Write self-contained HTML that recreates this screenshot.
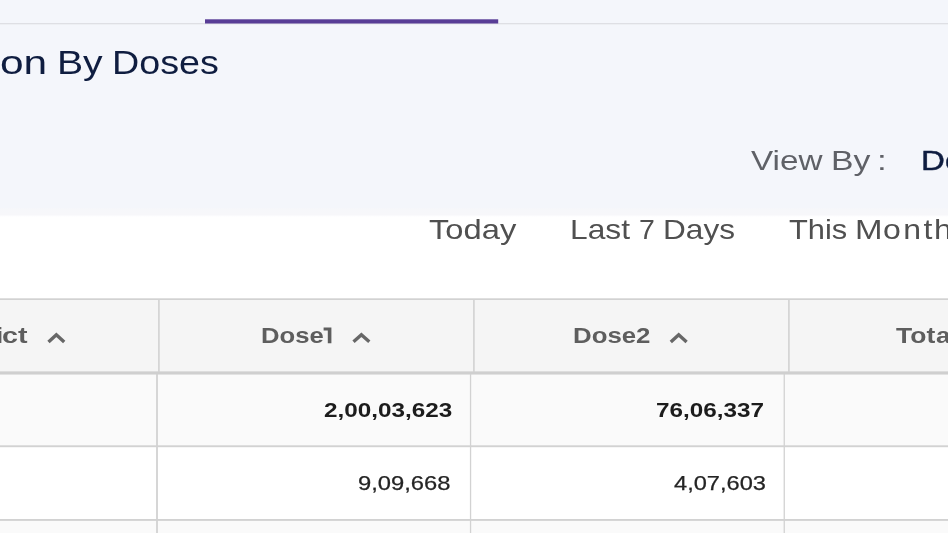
<!DOCTYPE html>
<html><head><meta charset="utf-8">
<style>
html,body{margin:0;padding:0;}
body{width:948px;height:533px;overflow:hidden;position:relative;background:#fff;font-family:"Liberation Sans",sans-serif;}
.abs{position:absolute;}
.t{position:absolute;white-space:nowrap;line-height:1;transform-origin:0 0;will-change:transform;}
.topbg{left:0;top:0;width:948px;height:218px;background:linear-gradient(to bottom,#f4f6fb 0,#f4f6fb 207.5px,#f6f7fa 208.8px,#f7f7fa 214.8px,#fff 216.8px);}
.hdr{left:0;top:299px;width:948px;height:74px;background:#f5f5f5;}
.r1{left:0;top:374px;width:948px;height:72px;background:#fafafa;}
.r3{left:0;top:521px;width:948px;height:12px;background:#fafafa;}
.chev{position:absolute;}
.fx{position:absolute;left:0;top:0;width:948px;height:533px;}

</style></head><body>
<div class="abs topbg"></div>
<div class="abs hdr"></div>
<div class="abs r1"></div>
<div class="abs r3"></div>
<svg class="chev" style="left:0;top:0" width="948" height="533" viewBox="0 0 948 533">
<rect x="-5" y="23.1" width="958" height="1.2" fill="#dcdde1"/>
<rect x="205" y="19.3" width="293.2" height="4.2" fill="#583d96"/>
<g fill="#d2d2d2">
<rect x="-5" y="298.3" width="958" height="1.7"/>
<rect x="-5" y="371.35" width="958" height="3.2" fill="#cfcfcf"/>
<rect x="-5" y="445.3" width="958" height="1.9"/>
<rect x="-5" y="519" width="958" height="1.9"/>
<rect x="158.1" y="299" width="1.6" height="73"/>
<rect x="473.1" y="299" width="1.6" height="73"/>
<rect x="788.1" y="299" width="1.6" height="73"/>
<rect x="156.1" y="374" width="1.8" height="165"/>
<rect x="469.9" y="374" width="1.3" height="165"/>
<rect x="783.6" y="374" width="1.3" height="165"/>
</g>
<g fill="none" stroke="#676767" stroke-width="3.4">
<path d="M48.5 341.9 L56.35 334.7 L64.2 341.9"/>
<path d="M353.5 341.7 L361.4 334.7 L369.3 341.7"/>
<path d="M670.8 341.9 L678.7 334.8 L686.6 341.9"/>
</g>
<g fill="#5e5e5e"><path d="M323.6 327.6 H331.4 V343.3 H327.8 V330.6 H323.6 Z"/></g>
</svg>

<div class="fx">
<span class="t" style="left:-0.10px;top:45.20px;font-size:34px;font-weight:400;color:#0f1d40;transform:scaleX(1.2480)">on</span>
<span class="t" style="left:56.50px;top:45.20px;font-size:34px;font-weight:400;color:#0f1d40;transform:scaleX(1.1518)">By</span>
<span class="t" style="left:112.40px;top:45.20px;font-size:34px;font-weight:400;color:#0f1d40;transform:scaleX(1.1087)">Doses</span>
<span class="t" style="left:751.30px;top:147.60px;font-size:27px;font-weight:400;color:#5f6167;transform:scaleX(1.2310)">View</span>
<span class="t" style="left:831.40px;top:147.60px;font-size:27px;font-weight:400;color:#5f6167;transform:scaleX(1.2486)">By</span>
<span class="t" style="left:876.80px;top:147.60px;font-size:27px;font-weight:400;color:#5f6167;transform:scaleX(1.3000)">:</span>
<span class="t" style="left:920.90px;top:148.00px;font-size:27px;font-weight:400;color:#0f1d40;-webkit-text-stroke:0.45px #0f1d40;transform:scaleX(1.2240)">D</span>
<span class="t" style="left:944.60px;top:148.00px;font-size:27px;font-weight:400;color:#0f1d40;-webkit-text-stroke:0.45px #0f1d40;transform:scaleX(1.2000)">o</span>
<span class="t" style="left:429.30px;top:215.80px;font-size:28px;font-weight:400;color:#505050;transform:scaleX(1.1676)">Today</span>
<span class="t" style="left:569.70px;top:215.80px;font-size:28px;font-weight:400;color:#505050;transform:scaleX(1.1336)">Last</span>
<span class="t" style="left:638.70px;top:215.80px;font-size:28px;font-weight:400;color:#505050;transform:scaleX(1.0154)">7</span>
<span class="t" style="left:663.10px;top:215.80px;font-size:28px;font-weight:400;color:#505050;transform:scaleX(1.1281)">Days</span>
<span class="t" style="left:788.70px;top:215.80px;font-size:28px;font-weight:400;color:#505050;transform:scaleX(1.1020)">This</span>
<span class="t" style="left:855.00px;top:215.80px;font-size:28px;font-weight:400;color:#505050;transform:scaleX(1.1790)">M</span>
<span class="t" style="left:883.40px;top:215.80px;font-size:28px;font-weight:400;color:#505050;letter-spacing:2.2px;transform:scaleX(1.1429)">ont</span>
<span class="t" style="left:934.10px;top:215.80px;font-size:28px;font-weight:400;color:#505050;transform:scaleX(1.1500)">h</span>
<span class="t" style="left:2.00px;top:326.30px;font-size:21.5px;font-weight:700;color:#5e5e5e;transform:scaleX(1.3333)">ct</span>
<span class="t" style="left:-3.70px;top:326.30px;font-size:21.5px;font-weight:700;color:#5e5e5e;transform:scaleX(1.2000)">i</span>
<span class="t" style="left:260.70px;top:326.30px;font-size:21.5px;font-weight:700;color:#5e5e5e;transform:scaleX(1.1924)">Dose</span>
<span class="t" style="left:573.20px;top:326.30px;font-size:21.5px;font-weight:700;color:#5e5e5e;transform:scaleX(1.2001)">Dose2</span>
<span class="t" style="left:896.30px;top:326.30px;font-size:21.5px;font-weight:700;color:#5e5e5e;transform:scaleX(1.2313)">Tot</span>
<span class="t" style="left:936.20px;top:326.30px;font-size:21.5px;font-weight:700;color:#5e5e5e;transform:scaleX(1.2000)">a</span>
<span class="t" style="left:323.50px;top:400.10px;font-size:20px;font-weight:700;color:#1c1c1c;transform:scaleX(1.2135)">2,00,03,623</span>
<span class="t" style="left:656.40px;top:400.10px;font-size:20px;font-weight:700;color:#1c1c1c;transform:scaleX(1.2138)">76,06,337</span>
<span class="t" style="left:358.30px;top:472.70px;font-size:20.5px;font-weight:400;color:#242424;-webkit-text-stroke:0.25px #242424;transform:scaleX(1.1590)">9,09,668</span>
<span class="t" style="left:673.70px;top:472.70px;font-size:20.5px;font-weight:400;color:#242424;-webkit-text-stroke:0.25px #242424;transform:scaleX(1.1519)">4,07,603</span>
</div>
</body></html>
